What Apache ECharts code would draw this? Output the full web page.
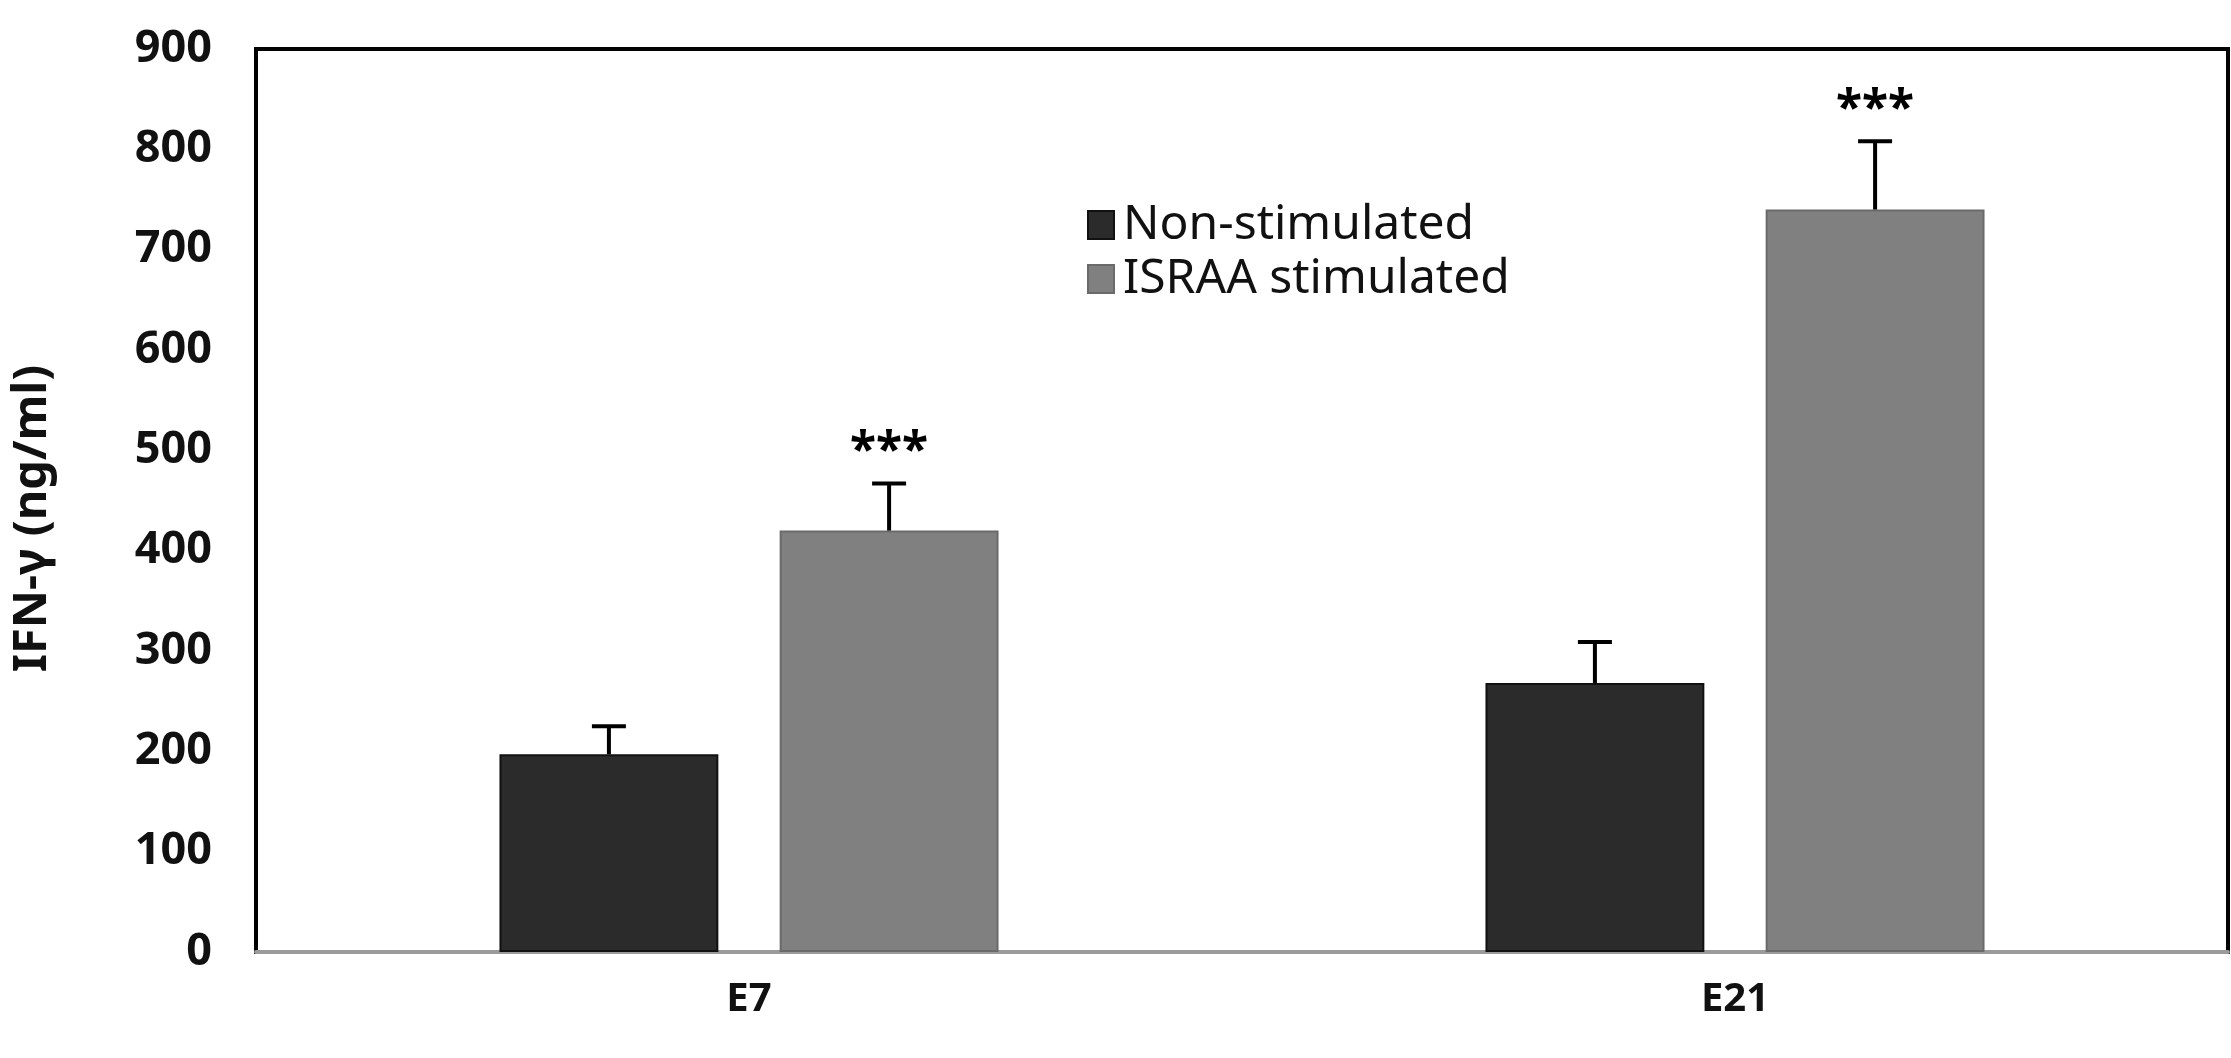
<!DOCTYPE html>
<html>
<head>
<meta charset="utf-8">
<script src="https://cdn.jsdelivr.net/npm/echarts@6/dist/echarts.min.js"></script>
<style>
  html, body { margin: 0; padding: 0; background: #fff; }
  #chart { width: 2231px; height: 1058px; }
</style>
</head>
<body>
<div id="chart"></div>
<script>
// ---- data ----
const categories = ['E7', 'E21'];
const seriesNames = ['Non-stimulated', 'ISRAA stimulated'];
const nonStimulated = [197, 268];
const nonStimulatedErr = [28, 41];
const nonStimulatedSig = ['', ''];
const israaStimulated = [420, 740];
const israaStimulatedErr = [47, 68];
const israaStimulatedSig = ['***', '***'];
const yTicks = { min: 0, max: 900, interval: 100 };
const yAxisName = 'IFN-γ (ng/ml)';

// ---- style ----
const BAR_W = 0.222;   // fraction of category band
const BAR_GAP = 0.28;  // fraction of bar width
const FONT = "'Noto Sans', 'DejaVu Sans', sans-serif";

function errorSeries(name, values, errs, sigs, side) {
  return {
    name: name + ' err',
    type: 'custom',
    z: 5,
    silent: true,
    data: values.map((v, i) => [i, v, errs[i]]),
    renderItem: function (params, api) {
      const ci = api.value(0), v = api.value(1), e = api.value(2);
      const band = api.size([1, 0])[0];
      const w = band * BAR_W;
      const off = side * (w / 2 + w * BAR_GAP / 2);
      const base = api.coord([ci, v]);
      const top = api.coord([ci, v + e]);
      const x = base[0] + off;
      const capHalf = 17;
      const st = { stroke: '#000', lineWidth: 4 };
      const children = [
        { type: 'line', shape: { x1: x, y1: base[1], x2: x, y2: top[1] }, style: st },
        { type: 'line', shape: { x1: x - capHalf, y1: top[1], x2: x + capHalf, y2: top[1] }, style: st }
      ];
      const s = sigs[params.dataIndex];
      if (s) {
        children.push({
          type: 'text',
          x: x, y: top[1] - 7,
          style: {
            text: s, fill: '#000', font: 'bold 48px ' + FONT,
            textAlign: 'center', textVerticalAlign: 'bottom'
          }
        });
      }
      return { type: 'group', children: children };
    }
  };
}

const chart = echarts.init(document.getElementById('chart'));
chart.setOption({
  animation: false,
  backgroundColor: '#fff',
  grid: {
    left: 256, right: 3, top: 49, bottom: 106,
    outerBoundsMode: 'none', containLabel: false,
    show: true, borderColor: '#000', borderWidth: 4, backgroundColor: 'transparent'
  },
  legend: {
    left: 1082, top: 195, orient: 'vertical',
    itemWidth: 26, itemHeight: 28, itemGap: 4,
    icon: 'rect',
    data: seriesNames,
    textStyle: { fontFamily: FONT, fontSize: 48, lineHeight: 50, color: '#111', padding: [0, 0, 0, 4] }
  },
  xAxis: {
    type: 'category',
    data: categories,
    axisLine: { show: true, lineStyle: { color: '#9a9a9a', width: 4 } },
    axisTick: { show: false },
    axisLabel: { fontFamily: FONT, fontSize: 40, fontWeight: 'bold', color: '#111', margin: 28 }
  },
  yAxis: {
    type: 'value',
    min: yTicks.min, max: yTicks.max, interval: yTicks.interval,
    name: yAxisName,
    nameLocation: 'middle',
    nameGap: 200,
    nameRotate: 90,
    nameTextStyle: { fontFamily: FONT, fontSize: 47, fontWeight: 'bold', color: '#111', padding: [0, 36, 0, 0] },
    axisLine: { show: true, lineStyle: { color: '#000', width: 4 } },
    axisTick: { show: false },
    splitLine: { show: false },
    axisLabel: { fontFamily: FONT, fontSize: 45, fontWeight: 'bold', color: '#111', margin: 44 }
  },
  series: [
    {
      name: seriesNames[0], type: 'bar', data: nonStimulated,
      barWidth: (BAR_W * 100) + '%', barGap: (BAR_GAP * 100) + '%',
      itemStyle: { color: '#2b2b2b', borderColor: '#111', borderWidth: 2 }
    },
    {
      name: seriesNames[1], type: 'bar', data: israaStimulated,
      barWidth: (BAR_W * 100) + '%', barGap: (BAR_GAP * 100) + '%',
      itemStyle: { color: '#808080', borderColor: '#6a6a6a', borderWidth: 2 }
    },
    errorSeries(seriesNames[0], nonStimulated, nonStimulatedErr, nonStimulatedSig, -1),
    errorSeries(seriesNames[1], israaStimulated, israaStimulatedErr, israaStimulatedSig, 1)
  ]
});
</script>
</body>
</html>
